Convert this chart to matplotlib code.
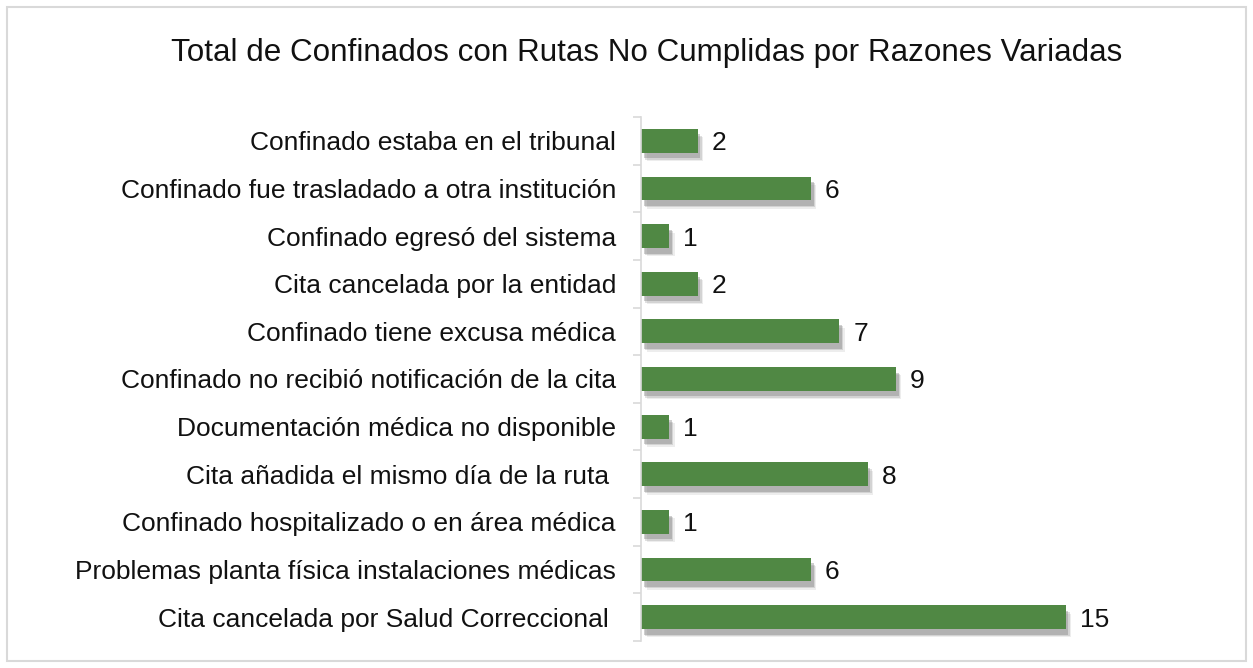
import matplotlib.pyplot as plt
import matplotlib.patheffects as pe
from matplotlib.patches import Rectangle
import numpy as np

plt.rcParams['font.family'] = ['Liberation Sans', 'DejaVu Sans']

# categories listed top to bottom
reasons = [
    'Confinado estaba en el tribunal',
    'Confinado fue trasladado a otra institución',
    'Confinado egresó del sistema',
    'Cita cancelada por la entidad',
    'Confinado tiene excusa médica',
    'Confinado no recibió notificación de la cita',
    'Documentación médica no disponible',
    'Cita añadida el mismo día de la ruta ',
    'Confinado hospitalizado o en área médica',
    'Problemas planta física instalaciones médicas',
    'Cita cancelada por Salud Correccional ',
]
counts = [2, 6, 1, 2, 7, 9, 1, 8, 1, 6, 15]

W, H = 1253, 668
fig = plt.figure(figsize=(W / 100, H / 100), dpi=100)
fig.patches.append(Rectangle((7 / W, 7 / H), (W - 14) / W, (H - 14) / H,
                             transform=fig.transFigure, fill=False,
                             edgecolor='#d9d9d9', linewidth=1.5))

ax = fig.add_axes([641 / W, 1 - 641 / H, 453 / W, 524 / H])
y = np.arange(len(reasons))
# soft drop shadow, built from a few offset translucent copies
shadow = [pe.SimplePatchShadow(offset=(4, -6), shadow_rgbFace='#bbbbbb', alpha=0.25),
          pe.SimplePatchShadow(offset=(3, -5), shadow_rgbFace='#999999', alpha=0.3),
          pe.SimplePatchShadow(offset=(2, -4), shadow_rgbFace='#777777', alpha=0.35),
          pe.Normal()]
bars = ax.barh(y, counts, height=0.5, color='#508844', path_effects=shadow)
for yi, c in zip(y, counts):
    ax.text(c + 0.5, yi, str(c), va='center_baseline', ha='left', fontsize=19, color='#111111')

ax.set_xlim(0, 16)
ax.set_ylim(len(reasons) - 0.5, -0.5)
ax.set_yticks(y)
ax.set_yticklabels(reasons, fontsize=19, color='#111111', va='center_baseline')
ax.set_yticks(np.arange(len(reasons) + 1) - 0.5, minor=True)
ax.tick_params(axis='y', which='major', length=0, pad=18)
ax.tick_params(axis='y', which='minor', length=6, color='#d9d9d9', width=1.2)
ax.set_xticks([])
for s in ['top', 'right', 'bottom']:
    ax.spines[s].set_visible(False)
ax.spines['left'].set_color('#d9d9d9')
ax.spines['left'].set_linewidth(1.2)

fig.text(647 / W, 1 - 53 / H, 'Total de Confinados con Rutas No Cumplidas por Razones Variadas',
         ha='center', va='center', fontsize=22.6, color='#111111')

fig.savefig('out.png', dpi=100)
